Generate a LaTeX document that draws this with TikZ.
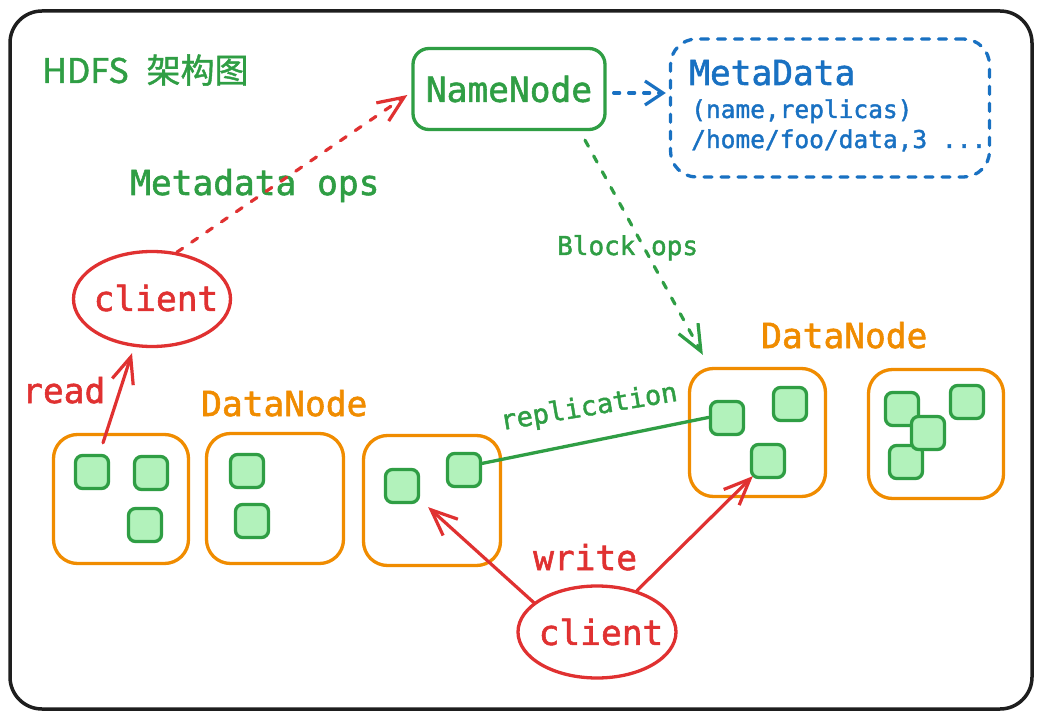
\documentclass[tikz,border=0pt]{standalone}
\usepackage{fontspec}
\newfontfamily\mono[FakeBold=1.6]{DejaVu Sans Mono}
\newfontfamily\cjk[FakeBold=1.2]{Noto Sans CJK SC}
\usetikzlibrary{arrows.meta,shapes.geometric,calc}
\definecolor{xred}{HTML}{E03131}
\definecolor{xgreen}{HTML}{2F9E44}
\definecolor{xorange}{HTML}{F08C00}
\definecolor{xblue}{HTML}{1971C2}
\definecolor{xfill}{HTML}{B2F2BB}
\definecolor{xframe}{HTML}{1E1E1E}
\begin{document}
\begin{tikzpicture}[x=1pt,y=-1pt,
  dnbox/.style={draw=xorange,line width=3.3pt,rounded corners=24pt,inner sep=0pt},
  blk/.style={draw=xgreen,fill=xfill,line width=3.3pt,rounded corners=7pt,minimum size=33pt,inner sep=0pt},
  big/.style={inner sep=0pt,font=\mono\fontsize{34.5}{40}\selectfont},
  small/.style={inner sep=0pt,font=\mono\fontsize{24.5}{30}\selectfont},
  ell/.style={ellipse,draw=xred,line width=3.3pt,inner sep=0pt},
  tip/.style={-{Straight Barb[length=26pt,width=22pt]}},
  redarr/.style={draw=xred,line width=3.2pt,line cap=round,tip},
  dsh/.style={line width=3.2pt,line cap=round,dash pattern=on 7pt off 11pt,tip}]
\useasboundingbox (0,0) rectangle (1041,719);
\fill[white] (0,0) rectangle (1041,719);
\draw[xframe,line width=3.5pt,rounded corners=32pt] (10,11) rectangle (1032,709);

% title
\node[inner sep=0pt,anchor=base west,text=xgreen,font=\cjk\fontsize{34}{40}\selectfont] (title) at (42,83) {HDFS\hspace{18pt}架构图};

% NameNode and MetaData
\node[draw=xgreen,line width=3.3pt,rounded corners=16pt,minimum width=192pt,minimum height=81pt,big,text=xgreen] (nn) at (509,89) {NameNode};
\node[draw=xblue,line width=3.3pt,rounded corners=26pt,minimum width=319pt,minimum height=138pt,dash pattern=on 8pt off 9pt,line cap=round] (md) at (830,108) {};
\node[big,anchor=base west,text=xblue] (mdt) at (689,85) {MetaData};
\node[small,anchor=base west,text=xblue] (mdl1) at (691,118) {(name,replicas)};
\node[small,anchor=base west,text=xblue] (mdl2) at (691,148) {/home/foo/data,3 ...};

% clients
\node[ell,minimum width=157pt,minimum height=95pt] (c1) at (152,299) {};
\node[big,text=xred] (c1t) at (156,298) {client};
\node[ell,minimum width=158pt,minimum height=92pt] (c2) at (597,632) {};
\node[big,text=xred] (c2t) at (601,632) {client};

% labels
\node[big,anchor=base west,text=xgreen] (mops) at (130,195) {Metadata ops};
\node[inner sep=0pt,anchor=base west,text=xgreen,font=\mono\fontsize{26}{30}\selectfont] (bops) at (557,255) {Block ops};
\node[big,anchor=base west,text=xred] (read) at (22,403) {read};
\node[big,anchor=base west,text=xred] (write) at (533,570) {write};
\node[big,anchor=base west,text=xorange] (dnl1) at (201,416) {DataNode};
\node[big,anchor=base west,text=xorange] (dnl2) at (761,348) {DataNode};

% DataNode boxes
\node[dnbox,minimum width=135pt,minimum height=129pt] (dn1) at (121,499) {};
\node[dnbox,minimum width=137pt,minimum height=130pt] (dn2) at (275,498.5) {};
\node[dnbox,minimum width=137pt,minimum height=130pt] (dn3) at (432,500.5) {};
\node[dnbox,minimum width=136pt,minimum height=128pt] (dn4) at (757.5,432.5) {};
\node[dnbox,minimum width=135pt,minimum height=129pt] (dn5) at (936,434) {};

% blocks
\node[blk] (b1a) at (92,472) {};
\node[blk] (b1b) at (151,473) {};
\node[blk] (b1c) at (145,525) {};
\node[blk] (b2a) at (247,471) {};
\node[blk] (b2b) at (252,521) {};
\node[blk] (b3a) at (402,486) {};
\node[blk] (b3b) at (464,470) {};
\node[blk] (b4a) at (727,418) {};
\node[blk] (b4b) at (790,404) {};
\node[blk] (b4c) at (768,461) {};
\node[blk] (b5d) at (902,409) {};
\node[blk] (b5g) at (906,462) {};
\node[blk] (b5f) at (928,433) {};
\node[blk] (b5e) at (967,402) {};

% connectors
\draw[xred,dsh] (c1.62) -- ($(nn.west)+(-4,6)$);
\draw[xblue,dsh,dash pattern=on 6pt off 9pt,-{Straight Barb[length=18pt,width=24pt]}] ($(nn.east)+(7,4)$) -- ($(md.west)+(-3,-15)$);
\draw[xgreen,dsh] ($(nn.south)+(76,9)$) -- ($(dn4.north west)+(15,-12)$);
\draw[redarr] ($(dn1.north)+(-18,10)$) -- ($(c1.south)+(-20,5)$);
\draw[redarr] (c2.155) -- ($(b3a.south east)+(8,3)$);
\draw[redarr] (c2.46) -- ($(b4c.south west)+(3,-3)$);
\draw[xgreen,line width=3.3pt,line cap=round] (b3b.20) -- (b4a.178);
\node[inner sep=0pt,text=xgreen,rotate=9.5,font=\mono\fontsize{27}{30}\selectfont] (repl) at (589,408) {replication};
\end{tikzpicture}
\end{document}
